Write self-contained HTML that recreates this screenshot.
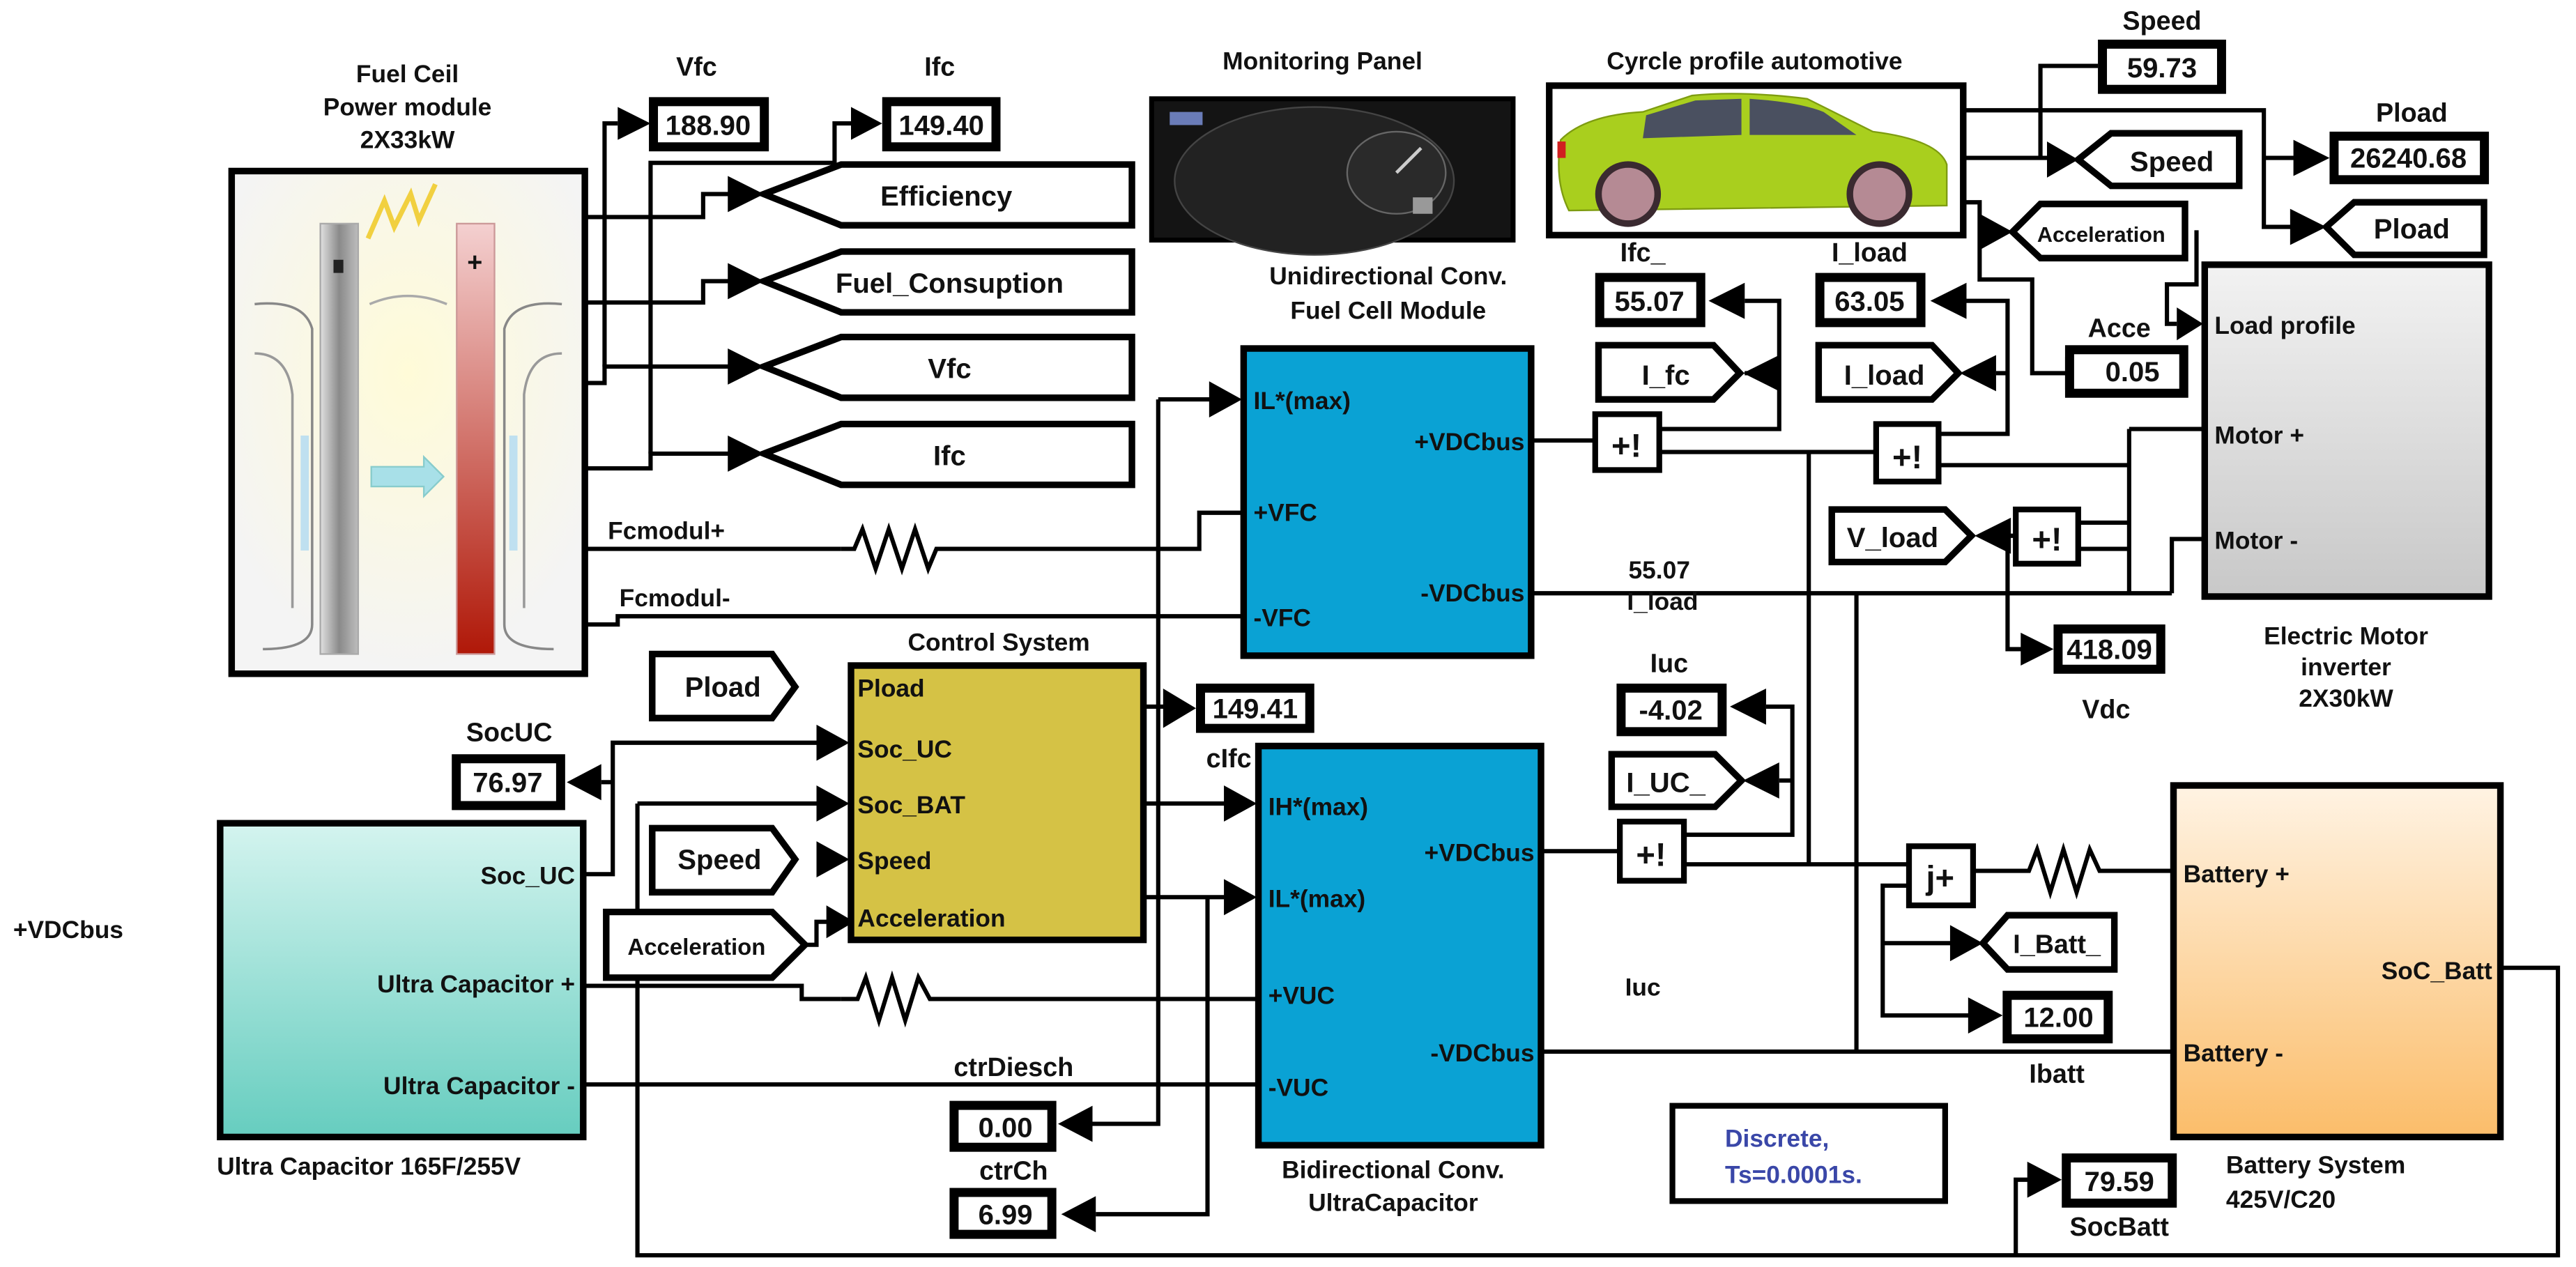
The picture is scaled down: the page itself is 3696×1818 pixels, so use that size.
<!DOCTYPE html>
<html><head><meta charset="utf-8"><style>
html,body{margin:0;padding:0;background:#fff;}
svg{display:block;}
text{font-family:"Liberation Sans",Arial,sans-serif;font-weight:bold;fill:#111;}
</style></head><body>
<svg width="3696" height="1818" viewBox="0 0 1568 771" xmlns="http://www.w3.org/2000/svg">
<defs>
<linearGradient id="gUC" x1="0" y1="0" x2="0" y2="1"><stop offset="0" stop-color="#d4f4ef"/><stop offset="1" stop-color="#66cdbf"/></linearGradient>
<linearGradient id="gBat" x1="0" y1="0" x2="0" y2="1"><stop offset="0" stop-color="#fff3e3"/><stop offset="1" stop-color="#fbbd6a"/></linearGradient>
<linearGradient id="gMot" x1="0" y1="0" x2="0" y2="1"><stop offset="0" stop-color="#f2f2f2"/><stop offset="1" stop-color="#c8c8c8"/></linearGradient>
<linearGradient id="gGray" x1="0" y1="0" x2="1" y2="0"><stop offset="0" stop-color="#e0e0e0"/><stop offset="0.5" stop-color="#8a8a8a"/><stop offset="1" stop-color="#bdbdbd"/></linearGradient>
<linearGradient id="gRed" x1="0" y1="0" x2="0" y2="1"><stop offset="0" stop-color="#f4d0d0"/><stop offset="1" stop-color="#b01808"/></linearGradient>
<radialGradient id="gGlow" cx="0.5" cy="0.4" r="0.6"><stop offset="0" stop-color="#fffbd8"/><stop offset="1" stop-color="#f4f4f4"/></radialGradient>
</defs>
<g fill="none" stroke="#000" stroke-width="2.6">
<polyline points="356,132 428,132 428,118 445,118"/>
<polyline points="356,184 428,184 428,171 445,171"/>
<polyline points="356,233 368,233 368,223 445,223"/>
<polyline points="368,223 368,75 376,75"/>
<polyline points="356,285 396,285 396,276 445,276"/>
<polyline points="396,276 396,99 508,99 508,75 518,75"/>
<polyline points="356,334 512,334"/>
<polyline points="512,334 520,334 525,322 533,346 541,322 549,346 557,322 565,346 570,334 583,334 730,334 730,312 756,312"/>
<polyline points="356,380 376,380 376,375 756,375"/>
<polyline points="705,243 738,243"/>
<polyline points="705,243 705,489"/>
<polyline points="1195,67 1378,67 1378,138 1396,138"/>
<polyline points="1378,96 1398,96"/>
<polyline points="1195,96 1249,96"/>
<polyline points="1242,96 1242,40 1277,40"/>
<polyline points="1195,123 1205,123 1205,170 1237,170 1237,227 1259,227"/>
<polyline points="1337,140 1337,173 1319,173 1319,197 1325,197"/>
<polyline points="932,268 971,268"/>
<polyline points="1010,261 1083,261 1083,183 1062,183"/>
<polyline points="1083,227 1062,227"/>
<polyline points="1010,275 1142,275"/>
<polyline points="1101,275 1101,525"/>
<polyline points="1180,264 1222,264 1222,183 1197,183"/>
<polyline points="1222,227 1215,227"/>
<polyline points="1180,283 1296,283"/>
<polyline points="1296,261 1341,261"/>
<polyline points="1296,261 1296,361"/>
<polyline points="1265,318 1296,318"/>
<polyline points="1265,334 1296,334"/>
<polyline points="1341,328 1322,328 1322,361"/>
<polyline points="932,361 1322,361"/>
<polyline points="1227,326 1222,326 1222,395 1232,395"/>
<polyline points="1130,361 1130,640"/>
<polyline points="356,532 373,532 373,452 498,452"/>
<polyline points="366,476 373,476"/>
<polyline points="388,489 498,489"/>
<polyline points="388,489 388,764 1557,764 1557,589 1522,589"/>
<polyline points="1227,764 1227,718 1235,718"/>
<polyline points="356,600 488,600 488,608 512,608"/>
<polyline points="512,608 522,608 527,595 535,621 543,595 551,621 559,595 566,608 583,608 765,608"/>
<polyline points="356,660 765,660"/>
<polyline points="490,575 497,575 497,561 505,561"/>
<polyline points="697,430 710,430"/>
<polyline points="697,489 748,489"/>
<polyline points="705,489 705,684 665,684"/>
<polyline points="697,546 748,546"/>
<polyline points="735,546 735,739 667,739"/>
<polyline points="938,518 986,518"/>
<polyline points="1025,508 1091,508 1091,430 1075,430"/>
<polyline points="1091,475 1083,475"/>
<polyline points="1025,526 1162,526"/>
<polyline points="1201,530 1235,530 1240,517 1248,543 1256,517 1264,543 1272,517 1278,530 1322,530"/>
<polyline points="1162,539 1146,539 1146,618 1200,618"/>
<polyline points="1146,574 1188,574"/>
<polyline points="938,640 1322,640"/>
</g>
<g fill="#000">
<polygon points="376,65 396,75 376,85"/>
<polygon points="518,65 537,75 518,85"/>
<polygon points="443,107 465,118 443,129"/>
<polygon points="443,160 465,171 443,182"/>
<polygon points="443,212 465,223 443,234"/>
<polygon points="443,265 465,276 443,287"/>
<polygon points="736,232 756,243 736,254"/>
<polygon points="1246,86 1265,97 1246,108"/>
<polygon points="1396,85 1418,96 1396,107"/>
<polygon points="1394,127 1416,138 1394,149"/>
<polygon points="1205,130 1225,141 1205,152"/>
<polygon points="1257,217 1275,227 1257,237"/>
<polygon points="1325,187 1341,197 1325,207"/>
<polygon points="1062,172 1040,183 1062,194"/>
<polygon points="1083,216 1061,227 1083,238"/>
<polygon points="1197,172 1175,183 1197,194"/>
<polygon points="1215,216 1193,227 1215,238"/>
<polygon points="1224,315 1202,326 1224,337"/>
<polygon points="1230,385 1250,395 1230,405"/>
<polygon points="366,465 345,476 366,487"/>
<polygon points="497,441 517,452 497,463"/>
<polygon points="497,478 517,489 497,500"/>
<polygon points="497,512 517,523 497,534"/>
<polygon points="503,551 520,561 503,571"/>
<polygon points="708,419 728,431 708,443"/>
<polygon points="745,478 765,489 745,500"/>
<polygon points="745,535 765,546 745,557"/>
<polygon points="665,673 644,684 665,695"/>
<polygon points="667,728 646,739 667,750"/>
<polygon points="1075,419 1053,430 1075,441"/>
<polygon points="1083,464 1061,475 1083,486"/>
<polygon points="1187,563 1207,574 1187,585"/>
<polygon points="1198,607 1219,618 1198,629"/>
<polygon points="1234,707 1255,718 1234,729"/>
</g>

<text x="370" y="328" font-size="15">Fcmodul+</text>
<text x="377" y="369" font-size="15">Fcmodul-</text>

<text x="248" y="50" font-size="15" text-anchor="middle">Fuel Ceil</text>
<text x="248" y="70" font-size="15" text-anchor="middle">Power module</text>
<text x="248" y="90" font-size="15" text-anchor="middle">2X33kW</text>
<rect x="141" y="104" width="215" height="306" fill="url(#gGlow)" stroke="#000" stroke-width="4"/>
<path d="M155,185 Q185,182 190,200 L190,380 Q190,395 160,395" fill="none" stroke="#888" stroke-width="1.5"/>
<path d="M155,215 Q175,215 178,240 L178,370" fill="none" stroke="#999" stroke-width="1.5"/>
<path d="M342,185 Q312,182 307,200 L307,380 Q307,395 337,395" fill="none" stroke="#888" stroke-width="1.5"/>
<path d="M342,215 Q322,215 319,240 L319,370" fill="none" stroke="#999" stroke-width="1.5"/>
<path d="M225,185 Q248,175 272,185" fill="none" stroke="#aaa" stroke-width="1.5"/>
<rect x="195" y="136" width="23" height="262" fill="url(#gGray)" stroke="#aaa"/>
<rect x="278" y="136" width="23" height="262" fill="url(#gRed)" stroke="#c99"/>
<rect x="203" y="158" width="6" height="8" fill="#222"/>
<text x="289" y="165" font-size="16" text-anchor="middle">+</text>
<polyline points="224,145 234,122 240,138 250,118 255,134 265,112" fill="none" stroke="#f1d040" stroke-width="3"/>
<polygon points="226,284 258,284 258,278 270,290 258,302 258,296 226,296" fill="#a8e0e8" stroke="#8cc" />
<rect x="183" y="265" width="5" height="70" fill="#bfe0f0"/>
<rect x="310" y="265" width="5" height="70" fill="#bfe0f0"/>

<g>
<rect x="395" y="59" width="73" height="33" fill="#000"/><rect x="400" y="64" width="63" height="23" fill="#fff" stroke="#000"/><text x="431" y="82" font-size="17" text-anchor="middle" font-weight="normal">188.90</text>
<text x="424" y="46" font-size="16" text-anchor="middle">Vfc</text>
<rect x="537" y="59" width="72" height="33" fill="#000"/><rect x="542" y="64" width="62" height="23" fill="#fff" stroke="#000"/><text x="573" y="82" font-size="17" text-anchor="middle">149.40</text>
<text x="572" y="46" font-size="16" text-anchor="middle">Ifc</text>
<rect x="1277" y="24" width="78" height="33" fill="#000"/><rect x="1282" y="29" width="68" height="23" fill="#fff" stroke="#000"/><text x="1316" y="47" font-size="17" text-anchor="middle">59.73</text>
<text x="1316" y="18" font-size="16" text-anchor="middle">Speed</text>
<rect x="1418" y="80" width="97" height="32" fill="#000"/><rect x="1423" y="85" width="87" height="22" fill="#fff" stroke="#000"/><text x="1466" y="102" font-size="17" text-anchor="middle">26240.68</text>
<text x="1468" y="74" font-size="16" text-anchor="middle">Pload</text>
<rect x="971" y="166" width="67" height="33" fill="#000"/><rect x="976" y="171" width="57" height="23" fill="#fff" stroke="#000"/><text x="1004" y="189" font-size="17" text-anchor="middle" font-weight="normal">55.07</text>
<text x="1000" y="159" font-size="16" text-anchor="middle">Ifc_</text>
<rect x="1105" y="166" width="67" height="33" fill="#000"/><rect x="1110" y="171" width="57" height="23" fill="#fff" stroke="#000"/><text x="1138" y="189" font-size="17" text-anchor="middle" font-weight="normal">63.05</text>
<text x="1138" y="159" font-size="16" text-anchor="middle">I_load</text>
<rect x="1257" y="210" width="75" height="32" fill="#000"/><rect x="1262" y="215" width="65" height="22" fill="#fff" stroke="#000"/><text x="1298" y="232" font-size="17" text-anchor="middle">0.05</text>
<text x="1290" y="205" font-size="16" text-anchor="middle">Acce</text>
<rect x="1250" y="380" width="68" height="30" fill="#000"/><rect x="1255" y="385" width="58" height="20" fill="#fff" stroke="#000"/><text x="1284" y="401" font-size="17" text-anchor="middle">418.09</text>
<text x="1282" y="437" font-size="16" text-anchor="middle">Vdc</text>
<rect x="728" y="416" width="72" height="30" fill="#000"/><rect x="733" y="421" width="62" height="20" fill="#fff" stroke="#000"/><text x="764" y="437" font-size="17" text-anchor="middle">149.41</text>
<text x="748" y="467" font-size="16" text-anchor="middle">cIfc</text>
<rect x="984" y="416" width="67" height="32" fill="#000"/><rect x="989" y="421" width="57" height="22" fill="#fff" stroke="#000"/><text x="1017" y="438" font-size="17" text-anchor="middle">-4.02</text>
<text x="1016" y="409" font-size="16" text-anchor="middle">Iuc</text>
<rect x="275" y="459" width="69" height="34" fill="#000"/><rect x="280" y="464" width="59" height="24" fill="#fff" stroke="#000"/><text x="309" y="482" font-size="17" text-anchor="middle" font-weight="normal">76.97</text>
<text x="310" y="451" font-size="16" text-anchor="middle">SocUC</text>
<rect x="578" y="670" width="65" height="31" fill="#000"/><rect x="583" y="675" width="55" height="21" fill="#fff" stroke="#000"/><text x="612" y="692" font-size="17" text-anchor="middle">0.00</text>
<text x="617" y="655" font-size="16" text-anchor="middle">ctrDiesch</text>
<rect x="578" y="723" width="65" height="31" fill="#000"/><rect x="583" y="728" width="55" height="21" fill="#fff" stroke="#000"/><text x="612" y="745" font-size="17" text-anchor="middle">6.99</text>
<text x="617" y="718" font-size="16" text-anchor="middle">ctrCh</text>
<rect x="1219" y="603" width="67" height="32" fill="#000"/><rect x="1224" y="608" width="57" height="22" fill="#fff" stroke="#000"/><text x="1253" y="625" font-size="17" text-anchor="middle">12.00</text>
<text x="1252" y="659" font-size="16" text-anchor="middle">Ibatt</text>
<rect x="1255" y="702" width="70" height="33" fill="#000"/><rect x="1260" y="707" width="60" height="23" fill="#fff" stroke="#000"/><text x="1290" y="725" font-size="17" text-anchor="middle" font-weight="normal">79.59</text>
<text x="1290" y="752" font-size="16" text-anchor="middle">SocBatt</text>
</g>

<g fill="#fff" stroke="#000" stroke-width="4">
<polygon points="465,118 512,100 689,100 689,137 512,137"/>
<polygon points="465,171 512,153 689,153 689,190 512,190"/>
<polygon points="465,223 512,205 689,205 689,242 512,242"/>
<polygon points="465,276 512,258 689,258 689,295 512,295"/>
<polygon points="1265,97 1285,81 1363,81 1363,113 1285,113"/>
<polygon points="1416,138 1433,123 1512,123 1512,155 1433,155"/>
<polygon points="1225,141 1242,124 1330,124 1330,157 1242,157"/>
<polygon points="973,210 1043,210 1059,227 1043,243 973,243"/>
<polygon points="1107,210 1176,210 1192,227 1176,243 1107,243"/>
<polygon points="1115,310 1184,310 1200,326 1184,342 1115,342"/>
<polygon points="981,459 1044,459 1060,475 1044,491 981,491"/>
<polygon points="1207,574 1222,557 1287,557 1287,590 1222,590"/>
<polygon points="397,398 470,398 484,418 470,437 397,437"/>
<polygon points="397,504 470,504 484,523 470,543 397,543"/>
<polygon points="369,555 470,555 490,575 470,595 369,595"/>
</g>
<text x="576" y="125" font-size="17" text-anchor="middle">Efficiency</text>
<text x="578" y="178" font-size="17" text-anchor="middle" font-weight="normal">Fuel_Consuption</text>
<text x="578" y="230" font-size="17" text-anchor="middle">Vfc</text>
<text x="578" y="283" font-size="17" text-anchor="middle">Ifc</text>
<text x="1322" y="104" font-size="17" text-anchor="middle">Speed</text>
<text x="1468" y="145" font-size="17" text-anchor="middle">Pload</text>
<text x="1279" y="147" font-size="13" text-anchor="middle">Acceleration</text>
<text x="1014" y="234" font-size="17" text-anchor="middle" font-weight="normal">I_fc</text>
<text x="1147" y="234" font-size="17" text-anchor="middle" font-weight="normal">I_load</text>
<text x="1152" y="333" font-size="17" text-anchor="middle" font-weight="normal">V_load</text>
<text x="1014" y="482" font-size="17" text-anchor="middle" font-weight="normal">I_UC_</text>
<text x="1252" y="580" font-size="16" text-anchor="middle" font-weight="normal">I_Batt_</text>
<text x="440" y="424" font-size="17" text-anchor="middle">Pload</text>
<text x="438" y="529" font-size="17" text-anchor="middle">Speed</text>
<text x="424" y="581" font-size="14" text-anchor="middle">Acceleration</text>

<text x="805" y="42" font-size="15" text-anchor="middle">Monitoring Panel</text>
<rect x="701" y="60" width="220" height="86" fill="#141414" stroke="#000" stroke-width="3"/>
<ellipse cx="800" cy="110" rx="85" ry="45" fill="#222" stroke="#444"/>
<ellipse cx="850" cy="105" rx="30" ry="25" fill="#2a2a2a" stroke="#666"/>
<rect x="712" y="68" width="20" height="8" fill="#6a7cb8"/>
<line x1="850" y1="105" x2="865" y2="90" stroke="#ccc" stroke-width="2"/>
<rect x="860" y="120" width="12" height="10" fill="#999"/>

<text x="1068" y="42" font-size="15" text-anchor="middle">Cyrcle profile automotive</text>
<rect x="943" y="52" width="252" height="91" fill="#fff" stroke="#000" stroke-width="4"/>
<path d="M950,85 Q965,70 1000,68 L1030,58 Q1060,55 1100,60 L1140,80 Q1180,85 1185,100 L1185,125 L955,128 Q946,110 950,85 Z" fill="#a9cf1e" stroke="#7e9c10"/>
<path d="M1002,70 L1032,61 L1060,60 L1060,82 L1000,84 Z" fill="#4a5060"/>
<path d="M1065,60 Q1095,62 1110,68 L1130,82 L1065,82 Z" fill="#4a5060"/>
<circle cx="991" cy="118" r="18" fill="#b58a94" stroke="#3a2a30" stroke-width="4"/>
<circle cx="1144" cy="118" r="18" fill="#b58a94" stroke="#3a2a30" stroke-width="4"/>
<rect x="948" y="86" width="5" height="10" fill="#d02020"/>

<text x="845" y="173" font-size="15" text-anchor="middle">Unidirectional Conv.</text>
<text x="845" y="194" font-size="15" text-anchor="middle">Fuel Cell Module</text>
<rect x="757" y="212" width="175" height="187" fill="#0aa2d4" stroke="#000" stroke-width="4"/>
<text x="763" y="249" font-size="15">IL*(max)</text>
<text x="763" y="317" font-size="15">+VFC</text>
<text x="763" y="381" font-size="15">-VFC</text>
<text x="928" y="274" font-size="15" text-anchor="end">+VDCbus</text>
<text x="928" y="366" font-size="15" text-anchor="end">-VDCbus</text>

<g fill="#fff" stroke="#000" stroke-width="3.5">
<rect x="971" y="252" width="39" height="34"/>
<rect x="1142" y="258" width="38" height="35"/>
<rect x="1227" y="310" width="38" height="33"/>
<rect x="986" y="500" width="39" height="36"/>
<rect x="1162" y="515" width="39" height="36"/>
</g>
<text x="990" y="278" font-size="20" text-anchor="middle" font-weight="normal">+!</text>
<text x="1161" y="285" font-size="20" text-anchor="middle" font-weight="normal">+!</text>
<text x="1246" y="335" font-size="20" text-anchor="middle" font-weight="normal">+!</text>
<text x="1005" y="527" font-size="20" text-anchor="middle" font-weight="normal">+!</text>
<text x="1181" y="541" font-size="20" text-anchor="middle" font-weight="normal">j+</text>

<text x="1010" y="352" font-size="15" text-anchor="middle" font-weight="normal">55.07</text>
<text x="1012" y="371" font-size="15" text-anchor="middle" font-weight="normal">I_load</text>

<rect x="1342" y="161" width="173" height="202" fill="url(#gMot)" stroke="#000" stroke-width="4"/>
<text x="1348" y="203" font-size="15">Load profile</text>
<text x="1348" y="270" font-size="15">Motor +</text>
<text x="1348" y="334" font-size="15">Motor -</text>
<text x="1428" y="392" font-size="15" text-anchor="middle">Electric Motor</text>
<text x="1428" y="411" font-size="15" text-anchor="middle">inverter</text>
<text x="1428" y="430" font-size="15" text-anchor="middle">2X30kW</text>

<text x="608" y="396" font-size="15" text-anchor="middle">Control System</text>
<rect x="518" y="405" width="178" height="167" fill="#d5c245" stroke="#000" stroke-width="4"/>
<text x="522" y="424" font-size="15">Pload</text>
<text x="522" y="461" font-size="15">Soc_UC</text>
<text x="522" y="495" font-size="15">Soc_BAT</text>
<text x="522" y="529" font-size="15">Speed</text>
<text x="522" y="564" font-size="15">Acceleration</text>

<text x="8" y="571" font-size="15">+VDCbus</text>
<rect x="134" y="501" width="221" height="191" fill="url(#gUC)" stroke="#000" stroke-width="4"/>
<text x="350" y="538" font-size="15" text-anchor="end">Soc_UC</text>
<text x="350" y="604" font-size="15" text-anchor="end">Ultra Capacitor +</text>
<text x="350" y="666" font-size="15" text-anchor="end">Ultra Capacitor -</text>
<text x="132" y="715" font-size="15">Ultra Capacitor 165F/255V</text>

<rect x="766" y="454" width="172" height="243" fill="#0aa2d4" stroke="#000" stroke-width="4"/>
<text x="772" y="496" font-size="15">IH*(max)</text>
<text x="772" y="552" font-size="15">IL*(max)</text>
<text x="772" y="611" font-size="15">+VUC</text>
<text x="772" y="667" font-size="15" font-weight="normal">-VUC</text>
<text x="934" y="524" font-size="15" text-anchor="end">+VDCbus</text>
<text x="934" y="646" font-size="15" text-anchor="end" font-weight="normal">-VDCbus</text>
<text x="848" y="717" font-size="15" text-anchor="middle">Bidirectional Conv.</text>
<text x="848" y="737" font-size="15" text-anchor="middle">UltraCapacitor</text>
<text x="1000" y="606" font-size="15" text-anchor="middle" font-weight="normal">Iuc</text>

<rect x="1018" y="673" width="166" height="58" fill="#fff" stroke="#000" stroke-width="3.5"/>
<text x="1050" y="698" font-size="15" style="fill:#3a47a8">Discrete,</text>
<text x="1050" y="720" font-size="15" style="fill:#3a47a8">Ts=0.0001s.</text>

<rect x="1323" y="478" width="199" height="214" fill="url(#gBat)" stroke="#000" stroke-width="4"/>
<text x="1329" y="537" font-size="15">Battery +</text>
<text x="1517" y="596" font-size="15" text-anchor="end">SoC_Batt</text>
<text x="1329" y="646" font-size="15">Battery -</text>
<text x="1355" y="714" font-size="15">Battery System</text>
<text x="1355" y="735" font-size="15">425V/C20</text>
</svg>
</body></html>
